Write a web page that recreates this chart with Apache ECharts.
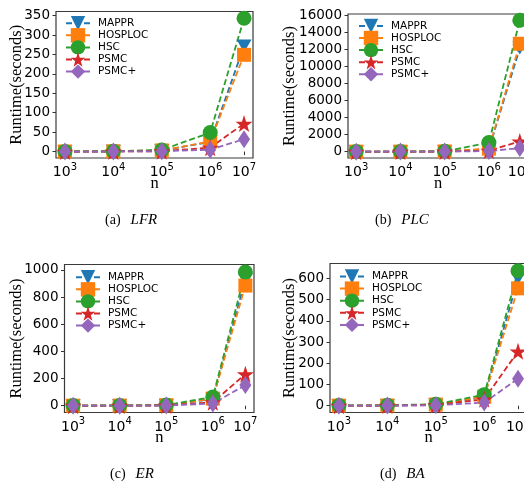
<!DOCTYPE html>
<html>
<head>
<meta charset="utf-8">
<script src="https://cdn.jsdelivr.net/npm/echarts@6.0.0/dist/echarts.min.js"></script>
<style>html,body{margin:0;padding:0;background:#fff;}#c{width:524px;height:487px;}</style>
</head>
<body>
<div id="c"></div>
<script>
// ---- data ----
const nValues = [1e3, 1e4, 1e5, 1e6, 5e6];
const tickExponents = ['3', '4', '5', '6', '7'];
const seriesNames = ['MAPPR', 'HOSPLOC', 'HSC', 'PSMC', 'PSMC+'];
const captions = [['(a)', 'LFR'], ['(b)', 'PLC'], ['(c)', 'ER'], ['(d)', 'BA']];

const lfrMAPPR   = [0.2, 0.6, 2.5, 25, 272];
const lfrHOSPLOC = [0.3, 0.8, 3, 26, 249];
const lfrHSC     = [0.5, 1, 4, 49, 343];
const lfrPSMC    = [0.05, 0.2, 1, 10, 72];
const lfrPSMCp   = [0.05, 0.15, 0.8, 5, 32];

const plcMAPPR   = [1, 3, 20, 300, 12200];
const plcHOSPLOC = [1, 4, 25, 350, 12700];
const plcHSC     = [2, 6, 40, 1060, 15450];
const plcPSMC    = [0.2, 1, 8, 120, 1200];
const plcPSMCp   = [0.2, 0.8, 6, 60, 420];

const erMAPPR    = [0.5, 1, 3, 50, 930];
const erHOSPLOC  = [0.5, 1.2, 3.5, 52, 885];
const erHSC      = [1, 2, 5, 64, 985];
const erPSMC     = [0.1, 0.4, 2, 25, 232];
const erPSMCp    = [0.1, 0.3, 1.5, 16, 152];

const baMAPPR    = [0.5, 1, 5, 40, 600];
const baHOSPLOC  = [0.5, 1.2, 5.5, 42, 553];
const baHSC      = [1, 2, 7, 52, 636];
const baPSMC     = [0.1, 0.5, 3, 30, 256];
const baPSMCp    = [0.1, 0.4, 2, 15, 127];

const lfrYTicks = [0, 50, 100, 150, 200, 250, 300, 350];
const plcYTicks = [0, 2000, 4000, 6000, 8000, 10000, 12000, 14000, 16000];
const erYTicks  = [0, 200, 400, 600, 800, 1000];
const baYTicks  = [0, 100, 200, 300, 400, 500, 600];

const panelData = [
  [lfrMAPPR, lfrHOSPLOC, lfrHSC, lfrPSMC, lfrPSMCp],
  [plcMAPPR, plcHOSPLOC, plcHSC, plcPSMC, plcPSMCp],
  [erMAPPR, erHOSPLOC, erHSC, erPSMC, erPSMCp],
  [baMAPPR, baHOSPLOC, baHSC, baPSMC, baPSMCp]
];
const panelYTicks = [lfrYTicks, plcYTicks, erYTicks, baYTicks];

// ---- styles / layout ----
const colors = ['#1f77b4', '#ff7f0e', '#2ca02c', '#d62728', '#9467bd'];
const starPath = 'path://M50,0 L61.8,35.1 L98.1,35.1 L68.8,56.7 L79.4,91 L50,70 L20.6,91 L31.2,56.7 L1.9,35.1 L38.2,35.1 Z';
const symbols = ['triangle', 'rect', 'circle', starPath, 'diamond'];
const symbolSizes = [[15, 13], 14, 15, 17, [12, 18]];
const symbolRotates = [180, 0, 0, 0, 0];

const layouts = [
  {grid: {left: 56, top: 11.5, width: 197, height: 146.5}, yMin: -16.5, yMax: 360.5, nameGap: 31, xNameGap: 17, legend: {left: 65, top: 16}, cap: {left: 105, top: 213}},
  {grid: {left: 348, top: 14, width: 180, height: 144}, yMin: -750, yMax: 16200, nameGap: 50, xNameGap: 17, legend: {left: 358, top: 18.7}, cap: {left: 375, top: 213}},
  {grid: {left: 64.5, top: 264.5, width: 189.5, height: 148}, yMin: -50, yMax: 1040, nameGap: 39, xNameGap: 17, legend: {left: 75, top: 270}, cap: {left: 110, top: 467}},
  {grid: {left: 330, top: 263.5, width: 197, height: 149}, yMin: -32, yMax: 670, nameGap: 32, xNameGap: 17, legend: {left: 339, top: 269.3}, cap: {left: 380, top: 467}}
];

const xs = nValues.map(v => Math.log10(v));
const xMin = xs[0] - 0.05 * (xs[4] - xs[0]);
const xMax = xs[4] + 0.05 * (xs[4] - xs[0]);

const tickFont = 'DejaVu Sans';
const serif = 'Liberation Serif';

const option = {
  animation: false,
  backgroundColor: '#fff',
  title: [], legend: [], grid: [], xAxis: [], yAxis: [], series: []
};

layouts.forEach((L, p) => {
  option.grid.push(Object.assign({show: true, borderColor: '#3a3a3a', borderWidth: 1.2, backgroundColor: 'transparent', containLabel: false, outerBoundsMode: 'none'}, L.grid));
  option.xAxis.push({
    type: 'value', gridIndex: p, min: xMin, max: xMax,
    axisLine: {show: false},
    axisTick: {show: true, length: 3.5, lineStyle: {color: '#333', width: 1}, customValues: xs},
    axisLabel: {
      customValues: xs, margin: 4, color: '#000', hideOverlap: false,
      formatter: function (val) {
        const i = xs.findIndex(v => Math.abs(v - val) < 1e-6);
        return '{b|10}{s|' + (i >= 0 ? tickExponents[i] : '') + '}';
      },
      rich: {
        b: {fontFamily: tickFont, fontSize: 14, color: '#000'},
        s: {fontFamily: tickFont, fontSize: 10, color: '#000', padding: [0, 0, 11, 0]}
      }
    },
    splitLine: {show: false},
    name: 'n', nameLocation: 'middle', nameGap: L.xNameGap, nameMoveOverlap: false,
    nameTextStyle: {fontFamily: serif, fontSize: 16.5, color: '#000'}
  });
  option.yAxis.push({
    type: 'value', gridIndex: p, min: L.yMin, max: L.yMax,
    axisLine: {show: false},
    axisTick: {show: true, length: 3.5, lineStyle: {color: '#333', width: 1}, customValues: panelYTicks[p]},
    axisLabel: {customValues: panelYTicks[p], margin: 6, color: '#000', fontFamily: tickFont, fontSize: 13.5,
      formatter: v => String(v)},
    splitLine: {show: false},
    name: 'Runtime(seconds)', nameLocation: 'middle', nameGap: L.nameGap, nameMoveOverlap: false,
    nameTextStyle: {fontFamily: serif, fontSize: 16.5, color: '#000'}
  });
  option.legend.push({
    left: L.legend.left, top: L.legend.top, orient: 'vertical',
    itemWidth: 24, itemHeight: 18, itemGap: -2.3, selectedMode: false,
    padding: 0,
    textStyle: {fontFamily: tickFont, fontSize: 10.5, color: '#000', padding: [0, 0, 0, 3]},
    data: seriesNames
  });
  option.title.push({
    left: L.cap.left, top: L.cap.top, padding: 0,
    text: '{p|' + captions[p][0] + '}{i|' + captions[p][1] + '}',
    textStyle: {
      fontWeight: 'normal',
      rich: {
        p: {fontFamily: serif, fontSize: 14, fontWeight: 'normal', color: '#000'},
        i: {fontFamily: serif, fontSize: 15, fontWeight: 'normal', fontStyle: 'italic', color: '#000', padding: [0, 0, 0, 10]}
      }
    }
  });
  seriesNames.forEach((name, s) => {
    option.series.push({
      type: 'line', name: name, xAxisIndex: p, yAxisIndex: p,
      data: xs.map((x, j) => [x, panelData[p][s][j]]),
      symbol: symbols[s], symbolSize: symbolSizes[s], symbolRotate: symbolRotates[s],
      showAllSymbol: true, clip: false,
      lineStyle: {color: colors[s], width: 1.8, type: [6, 3]},
      itemStyle: {color: colors[s], opacity: 1},
      emphasis: {disabled: true}
    });
  });
});

const chart = echarts.init(document.getElementById('c'), null, {renderer: 'canvas'});
chart.setOption(option);
</script>
</body>
</html>
